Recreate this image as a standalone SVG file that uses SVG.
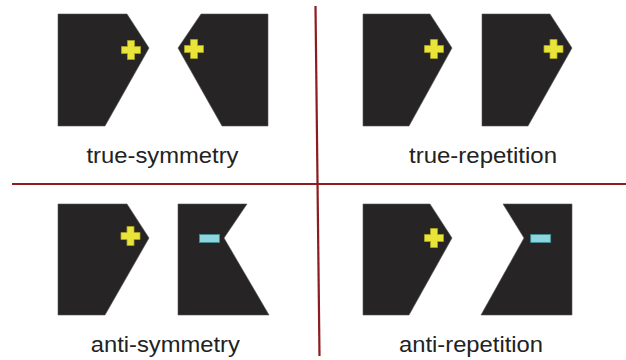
<svg xmlns="http://www.w3.org/2000/svg" width="626" height="360" viewBox="0 0 626 360">
<style>
.shape{fill:#262425;stroke:#555;stroke-width:0.6}
.plus{fill:#e9e43a;stroke:#a9a21e;stroke-width:0.8}
.minus{fill:#8ed5de;stroke:#3f8f98;stroke-width:0.8}
.lbl{font-family:"Liberation Sans",Arial,sans-serif;font-size:22px;fill:#222;text-anchor:middle}
.div{stroke:#8b1c1f;stroke-width:2.2;fill:none}
</style>
<defs>
<path id="plus" class="plus" d="M-3.5,-9.5 H3.5 V-3.5 H9.5 V3.5 H3.5 V9.5 H-3.5 V3.5 H-9.5 V-3.5 H-3.5 Z"/>
<rect id="minus" class="minus" x="-10" y="-4" width="20" height="8"/>
</defs>
<rect width="626" height="360" fill="#fff"/>
<g id="connectors">
<line class="div" x1="12" y1="184" x2="626" y2="184"/>
<line class="div" x1="315.5" y1="6" x2="319.5" y2="356"/>
</g>
<g id="true-symmetry">
<polygon class="shape" points="58,14 127,14 149,48 105,126 58,126"/>
<use href="#plus" x="131" y="50"/>
<polygon class="shape" points="268,14 201,14 178,48 222,126 268,126"/>
<use href="#plus" x="194" y="49"/>
<text class="lbl" x="162.5" y="163" textLength="152" lengthAdjust="spacingAndGlyphs">true-symmetry</text>
</g>
<g id="true-repetition">
<polygon class="shape" points="363,14 430,14 452,48 409,126 363,126"/>
<use href="#plus" x="434" y="49"/>
<polygon class="shape" points="482,14 550,14 572,48 528,126 482,126"/>
<use href="#plus" x="553.5" y="49"/>
<text class="lbl" x="483" y="163" textLength="148" lengthAdjust="spacingAndGlyphs">true-repetition</text>
</g>
<g id="anti-symmetry">
<polygon class="shape" points="58,204 127,204 149,238 105,315 58,315"/>
<use href="#plus" x="130.5" y="236"/>
<polygon class="shape" points="178,204 247,204 224,238 269,315 178,315"/>
<use href="#minus" x="209.5" y="238.5"/>
<text class="lbl" x="165.3" y="352" textLength="149" lengthAdjust="spacingAndGlyphs">anti-symmetry</text>
</g>
<g id="anti-repetition">
<polygon class="shape" points="363,204 430,204 452,238 409,315 363,315"/>
<use href="#plus" x="434" y="238"/>
<polygon class="shape" points="503,204 572,204 572,315 481,315 524,238"/>
<use href="#minus" x="540.7" y="238.5"/>
<text class="lbl" x="471" y="352" textLength="144" lengthAdjust="spacingAndGlyphs">anti-repetition</text>
</g>
</svg>
